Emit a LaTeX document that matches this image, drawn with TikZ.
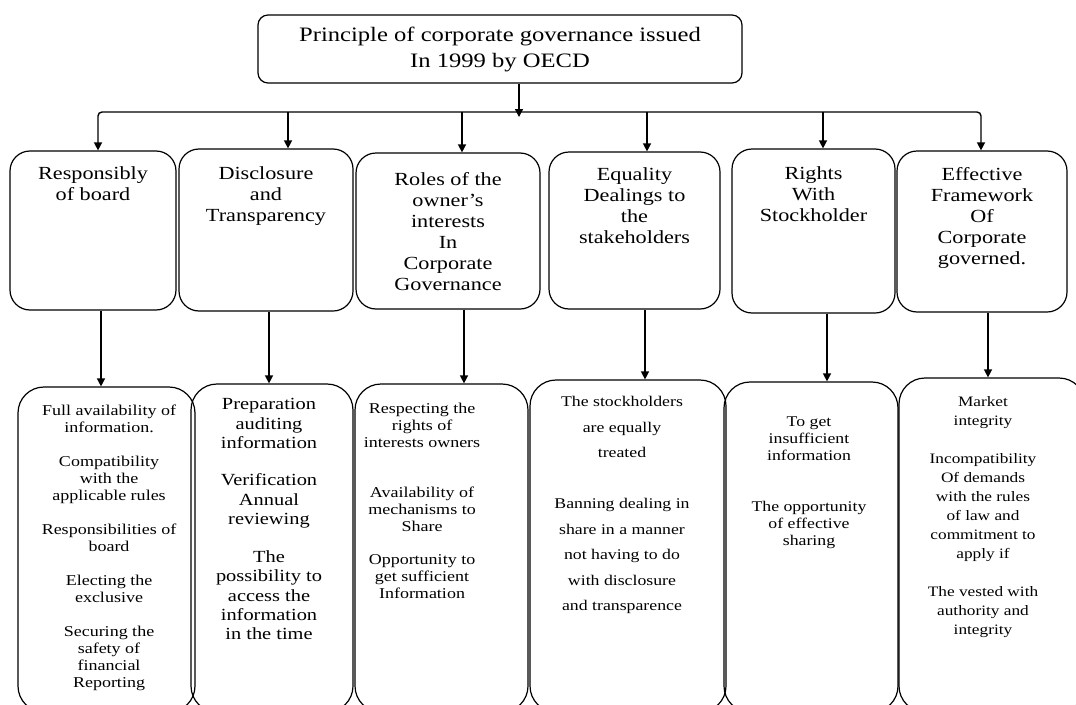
\documentclass[tikz,border=0pt]{standalone}
\usepackage{fontspec}
\setmainfont{Liberation Serif}[FakeStretch=1.2]
\usetikzlibrary{positioning}
\usetikzlibrary{arrows.meta}

\tikzset{
  topbox/.style={draw,rounded corners=10,line width=1.2pt,minimum width=484,minimum height=68,
    align=center,font=\fontsize{20.5}{26}\selectfont},
  upbox/.style={draw,rounded corners=20,line width=1.2pt},
  lowbox/.style={draw,rounded corners=26,line width=1.2pt},
  uptext/.style={align=center,inner sep=0pt,font=\fontsize{18.5}{21}\selectfont},
  lowtext/.style={align=center,inner sep=0pt,font=\fontsize{15}{17}\selectfont},
  arr/.style={-{Triangle[length=8pt,width=8pt]},line width=1.4pt},
}

\begin{document}
\begin{tikzpicture}[x=1pt,y=-1pt]
\useasboundingbox (0,0) rectangle (1076,704);
\clip (0,0) rectangle (1076,704);

\node[topbox](T)at(500,49){Principle of corporate governance issued\\In 1999 by OECD};

%% principles
\node[upbox,minimum width=166,minimum height=159](U1)at(93,230.5){};
\node[upbox,minimum width=174,minimum height=162](U2)at(266,230){};
\node[upbox,minimum width=184,minimum height=156](U3)at(448,231){};
\node[upbox,minimum width=171,minimum height=157](U4)at(634.5,230.5){};
\node[upbox,minimum width=163,minimum height=164](U5)at(813.5,231){};
\node[upbox,minimum width=170,minimum height=161](U6)at(982,231.5){};

\node[uptext,below=16pt of U1.north](P1){Responsibly\\of board};
\node[uptext,below=18pt of U2.north](P2){Disclosure\\and\\Transparency};
\node[uptext,below=20pt of U3.north](P3){Roles of the\\owner’s\\interests\\In\\Corporate\\Governance};
\node[uptext,below=16pt of U4.north](P4){Equality\\Dealings to\\the\\stakeholders};
\node[uptext,below=18pt of U5.north](P5){Rights\\With\\Stockholder};
\node[uptext,below=17pt of U6.north](P6){Effective\\Framework\\Of\\Corporate\\governed.};

%% details
\node[lowbox,minimum width=177,minimum height=325](L1)at(106.5,549.5){};
\node[lowbox,minimum width=162,minimum height=328](L2)at(272,548){};
\node[lowbox,minimum width=173,minimum height=328](L3)at(441.5,548){};
\node[lowbox,minimum width=196,minimum height=332](L4)at(628,546){};
\node[lowbox,minimum width=174,minimum height=330](L5)at(811,547){};
\node[lowbox,minimum width=186,minimum height=334](L6)at(992,545){};

\node[lowtext,below=18pt of L1.north,xshift=2.5pt](D1){Full availability of\\information.\\[17pt]
Compatibility\\with the\\applicable rules\\[17pt]Responsibilities of\\board\\[17pt]
Electing the\\exclusive\\[17pt]Securing the\\safety of\\financial\\Reporting};
\node[lowtext,below=15pt of L2.north,xshift=-3pt,font=\fontsize{17}{19.3}\selectfont](D2){Preparation\\auditing\\information\\[18pt]
Verification\\Annual\\reviewing\\[19pt]The\\possibility to\\access the\\information\\in the time};
\node[lowtext,below=19pt of L3.north,xshift=-19.5pt](D3){Respecting the\\rights of\\interests owners\\[33pt]
Availability of\\mechanisms to\\Share\\[16pt]Opportunity to\\get sufficient\\Information};
\node[lowtext,below=17pt of L4.north,xshift=-6pt,font=\fontsize{14.8}{25.5}\selectfont](D4){The stockholders\\are equally\\treated\\[25.5pt]
Banning dealing in\\share in a manner\\not having to do\\with disclosure\\and transparence};
\node[lowtext,below=35pt of L5.north,xshift=-2pt,font=\fontsize{14.8}{17}\selectfont](D5){To get\\insufficient\\information\\[34pt]
The opportunity\\of effective\\sharing};
\node[lowtext,below=19pt of L6.north,xshift=-9pt,font=\fontsize{14.4}{19}\selectfont](D6){Market\\integrity\\[19pt]
Incompatibility\\Of demands\\with the rules\\of law and\\commitment to\\apply if\\[19pt]
The vested with\\authority and\\integrity};

%% connectors
\coordinate(J)at(519,112);
\coordinate(Jt)at(519,117);
\draw[arr](T.south-|J)--(Jt);
\draw[rounded corners=4,line width=1.4pt,
{Triangle[length=8pt,width=8pt]}-{Triangle[length=8pt,width=8pt]}]
(98,0|-U1.north)|-(J)-|(981,0|-U6.north);
\foreach \x/\i in {288/2,462/3,647/4,823/5}
  \draw[arr](\x,0|-J)--(\x,0|-U\i.north);
\foreach \x/\i in {101/1,269/2,464/3,645/4,827/5,988/6}
  \draw[arr](\x,0|-U\i.south)--(\x,0|-L\i.north);
\end{tikzpicture}
\end{document}
